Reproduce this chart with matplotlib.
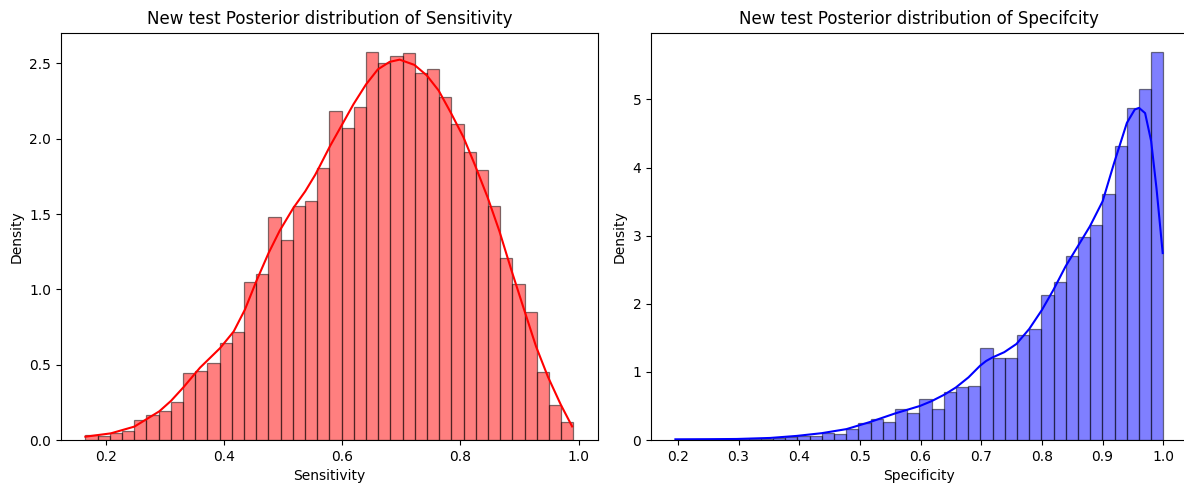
import numpy as np
import matplotlib
matplotlib.use("Agg")
import matplotlib.pyplot as plt

# ---- data ----
sens_range = (0.165, 0.991)
sens_density = [0.033, 0.027, 0.044, 0.062, 0.133, 0.166, 0.190, 0.255, 0.448, 0.461,
                0.514, 0.643, 0.720, 1.048, 1.101, 1.480, 1.330, 1.556, 1.589, 1.806,
                2.187, 2.068, 2.212, 2.575, 2.504, 2.549, 2.566, 2.433, 2.460, 2.278,
                2.097, 1.910, 1.795, 1.556, 1.208, 1.035, 0.853, 0.454, 0.233, 0.117]
sens_kde_x = [0.165, 0.208, 0.248, 0.290, 0.310, 0.331, 0.359, 0.393, 0.416, 0.435,
              0.455, 0.475, 0.494, 0.517, 0.537, 0.554, 0.562, 0.579, 0.599, 0.619,
              0.640, 0.660, 0.680, 0.697, 0.722, 0.743, 0.763, 0.784, 0.805, 0.825,
              0.846, 0.866, 0.886, 0.906, 0.928, 0.948, 0.970, 0.989]
sens_kde_y = [0.022, 0.044, 0.089, 0.19, 0.26, 0.35, 0.48, 0.61, 0.72, 0.865,
              1.06, 1.24, 1.39, 1.54, 1.65, 1.76, 1.82, 1.95, 2.09, 2.23,
              2.36, 2.46, 2.51, 2.525, 2.49, 2.42, 2.32, 2.17, 2.01, 1.82,
              1.61, 1.385, 1.13, 0.886, 0.62, 0.42, 0.233, 0.09]

spec_range = (0.196, 1.0)
spec_density = [0.003, 0.003, 0.0, 0.005, 0.005, 0.008, 0.010, 0.015, 0.025, 0.040,
                0.060, 0.065, 0.110, 0.088, 0.157, 0.245, 0.304, 0.260, 0.451, 0.392,
                0.598, 0.451, 0.711, 0.775, 0.799, 1.348, 1.200, 1.200, 1.544, 1.632,
                2.123, 2.314, 2.696, 2.980, 3.162, 3.618, 4.314, 4.877, 5.157, 5.696]
spec_kde_x = [0.196, 0.250, 0.297, 0.352, 0.396, 0.437, 0.478, 0.517, 0.558, 0.599,
              0.618, 0.639, 0.658, 0.679, 0.698, 0.708, 0.718, 0.738, 0.758, 0.779,
              0.800, 0.819, 0.839, 0.859, 0.879, 0.900, 0.919, 0.940, 0.953, 0.960,
              0.970, 0.980, 0.989, 0.999]
spec_kde_y = [0.010, 0.012, 0.015, 0.030, 0.060, 0.100, 0.160, 0.265, 0.39, 0.50,
              0.57, 0.665, 0.77, 0.92, 1.09, 1.16, 1.21, 1.29, 1.41, 1.63,
              1.91, 2.206, 2.55, 2.843, 3.137, 3.505, 4.07, 4.657, 4.853, 4.877,
              4.80, 4.387, 3.676, 2.745]

titles = ["New test Posterior distribution of Sensitivity",
          "New test Posterior distribution of Specifcity"]
xlabels = ["Sensitivity", "Specificity"]

fig = plt.figure(figsize=(11.84, 4.87), dpi=100)
ax1 = fig.add_axes([61/1184, 47/487, 536.7/1184, 407.3/487])
ax2 = fig.add_axes([651/1184, 47/487, 536.7/1184, 407.3/487])

def draw(ax, rng, dens, kx, ky, color, title, xlabel):
    n = len(dens)
    edges = np.linspace(rng[0], rng[1], n + 1)
    w = edges[1] - edges[0]
    ax.bar(edges[:-1], dens, width=w, align="edge", color=color, alpha=0.5,
           edgecolor="black", linewidth=0.9)
    ax.plot(kx, ky, color=color, linewidth=1.5)
    span = rng[1] - rng[0]
    ax.set_xlim(rng[0] - 0.05 * span, rng[1] + 0.05 * span)
    ax.set_ylim(0, max(dens) * 1.05)
    ax.set_title(title, fontsize=12)
    ax.set_xlabel(xlabel)
    ax.set_ylabel("Density")

draw(ax1, sens_range, sens_density, sens_kde_x, sens_kde_y, "red", titles[0], xlabels[0])
draw(ax2, spec_range, spec_density, spec_kde_x, spec_kde_y, "blue", titles[1], xlabels[1])
ax1.set_xticks([0.2, 0.4, 0.6, 0.8, 1.0])
ax1.set_yticks([0.0, 0.5, 1.0, 1.5, 2.0, 2.5])
ax2.set_xticks([0.2, 0.3, 0.4, 0.5, 0.6, 0.7, 0.8, 0.9, 1.0])
ax2.set_yticks([0, 1, 2, 3, 4, 5])

fig.savefig("out.png", dpi=100)
